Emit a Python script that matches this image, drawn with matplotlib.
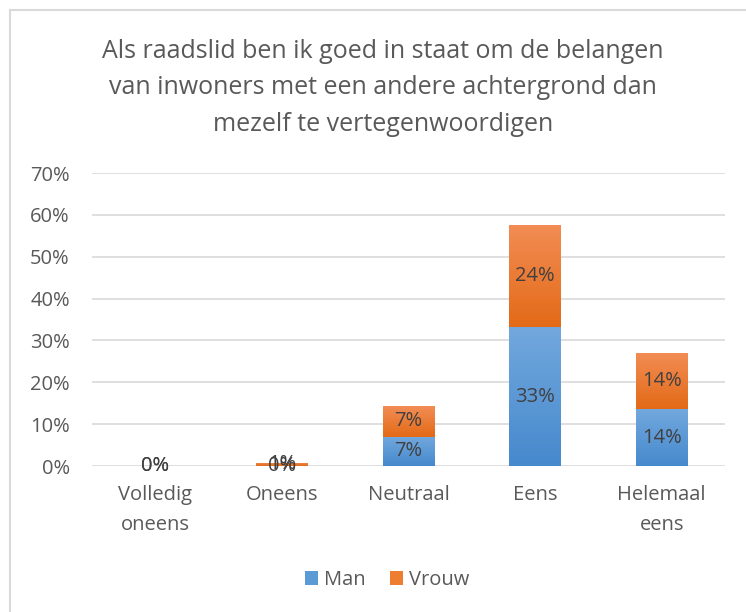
import numpy as np
import matplotlib
matplotlib.use('Agg')
import matplotlib.pyplot as plt
from matplotlib.patches import Rectangle
from matplotlib.colors import LinearSegmentedColormap

# data
categories = ['Volledig\noneens', 'Oneens', 'Neutraal', 'Eens', 'Helemaal\neens']
man = [0.0, 0.0, 0.070, 0.331, 0.135]
vrouw = [0.0, 0.008, 0.074, 0.244, 0.135]
series_names = ['Man', 'Vrouw']
yticks = [0, 0.1, 0.2, 0.3, 0.4, 0.5, 0.6, 0.7]
title = ('Als raadslid ben ik goed in staat om de belangen\n'
         'van inwoners met een andere achtergrond dan\n'
         'mezelf te vertegenwoordigen')

plt.rcParams['font.family'] = ['Open Sans', 'DejaVu Sans']

fig = plt.figure(figsize=(7.46, 6.12), dpi=100)
W, H = 746, 612

# light chart border (top/left visible)
fig.patches.append(Rectangle((10 / W, -0.05), 1.2, (H - 10) / H + 0.05,
                             transform=fig.transFigure, fill=False,
                             edgecolor='#d9d9d9', linewidth=1.5))

ax = fig.add_axes([92 / W, (H - 466) / H, 633 / W, 293 / H])

x = np.arange(len(categories))
width = 0.41
blue_cmap = LinearSegmentedColormap.from_list('b', ['#4689cd', '#72a8dd'])
orange_cmap = LinearSegmentedColormap.from_list('o', ['#e36a17', '#f28d55'])

b1 = ax.bar(x, man, width, color='#5B9BD5', label=series_names[0], zorder=2)
b2 = ax.bar(x, vrouw, width, bottom=man, color='#ED7D31', label=series_names[1], zorder=2)

# gradient fill, clipped to each bar
grad = np.linspace(0, 1, 256).reshape(-1, 1)
for bars, cmap in [(b1, blue_cmap), (b2, orange_cmap)]:
    for p in bars:
        if p.get_height() <= 0:
            continue
        x0, y0 = p.get_x(), p.get_y()
        im = ax.imshow(grad, cmap=cmap, origin='lower', aspect='auto',
                       extent=[x0, x0 + p.get_width(), y0, y0 + p.get_height()],
                       zorder=2.1)
        im.set_clip_path(p)

for i in range(len(categories)):
    ax.text(x[i], man[i] / 2, f'{round(man[i] * 100):.0f}%', ha='center', va='center',
            fontsize=14.5, color='#404040', zorder=3)
    ax.text(x[i], man[i] + vrouw[i] / 2, f'{round(vrouw[i] * 100):.0f}%', ha='center',
            va='center', fontsize=14.5, color='#404040', zorder=3)

ax.set_xlim(-0.5, len(categories) - 0.5)
ax.set_ylim(0, 0.7)
ax.set_yticks(yticks)
ax.set_yticklabels([f'{int(round(t * 100))}%' for t in yticks])
ax.set_xticks(x)
ax.set_xticklabels(categories, linespacing=1.65)
ax.tick_params(axis='both', length=0, labelsize=14.5, colors='#595959')
ax.tick_params(axis='y', pad=16)
ax.tick_params(axis='x', pad=14)
ax.grid(axis='y', color='#d9d9d9', linewidth=1.2, zorder=0)
for s in ax.spines.values():
    s.set_visible(False)

fig.text(383 / W, 1 - 88 / H, title, ha='center', va='center', fontsize=18,
         color='#595959', linespacing=1.58)

ax.legend(loc='center', bbox_to_anchor=(387 / W, 1 - 580 / H), bbox_transform=fig.transFigure,
          ncol=2, frameon=False, fontsize=14.5, handlelength=0.65, handleheight=0.65,
          handletextpad=0.3, columnspacing=1.2, labelcolor='#595959')

fig.savefig('out.png', dpi=100)
